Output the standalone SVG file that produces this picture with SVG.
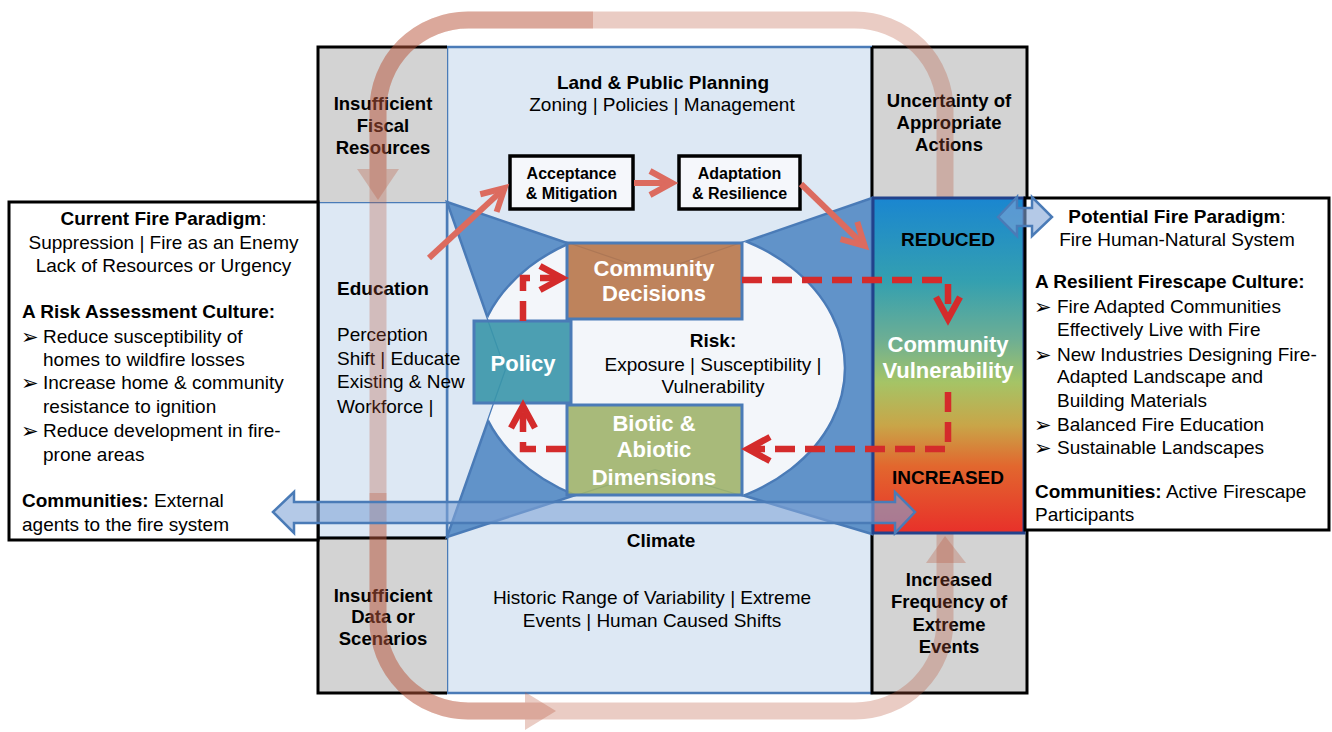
<svg xmlns="http://www.w3.org/2000/svg" width="1332" height="732" viewBox="0 0 1332 732">
<defs>
<style>
text{font-family:"Liberation Sans",Arial,sans-serif;font-size:19px;fill:#000}
.b{font-weight:bold}
.m{text-anchor:middle}
.g{font-size:18.5px;font-weight:bold;text-anchor:middle}
.w{font-size:22px;font-weight:bold;fill:#fff;text-anchor:middle}
.s{font-size:16px;font-weight:bold;text-anchor:middle}
.bul{font-family:"DejaVu Sans",sans-serif;font-size:21px}
.lb{fill:#dde8f4;stroke:#4a7bb7;stroke-width:2.5}
.gr{fill:#d3d3d3}
.blk{fill:none;stroke:#000;stroke-width:3}
.box{stroke:#4a7bb7;stroke-width:3;fill-opacity:0.9}
.wb{fill:#f5f7fb;stroke:#000;stroke-width:3.5}
.rd{fill:none;stroke:#d42b2b;stroke-width:6.5;stroke-dasharray:20 10}
.rh{fill:none;stroke:#d42b2b;stroke-width:6.5}
.sl{fill:none;stroke:#dc6b5f;stroke-width:6;marker-end:url(#ah)}
.loop{fill:none;stroke:#b9573c;stroke-opacity:0.3;stroke-width:17}
.loophead{fill:#b9573c;fill-opacity:0.3}
.dbl{fill:#82a5d7;fill-opacity:0.6;stroke:#4a7bb7;stroke-width:2.5}
</style>
<linearGradient id="vg" x1="0" y1="0" x2="0" y2="1">
<stop offset="0" stop-color="#1a86d0"/>
<stop offset="0.25" stop-color="#34a0b0"/>
<stop offset="0.42" stop-color="#6cae94"/>
<stop offset="0.55" stop-color="#a5c466"/>
<stop offset="0.68" stop-color="#c9a548"/>
<stop offset="0.8" stop-color="#e2672e"/>
<stop offset="1" stop-color="#e8302a"/>
</linearGradient>
<clipPath id="pc"><polygon points="447,202 655,273 872,198 872,534 655,469 447,537 506,370"/></clipPath>
<marker id="ah" markerUnits="userSpaceOnUse" markerWidth="40" markerHeight="30" viewBox="0 0 40 30" refX="26" refY="15" orient="auto" overflow="visible">
<path d="M4,3 L26,15 L4,27" fill="none" stroke="#dc6b5f" stroke-width="6"/>
</marker>
</defs>
<rect width="1332" height="732" fill="#fff"/>

<g id="frame">
<rect class="lb" x="447" y="47" width="425" height="646"/>
<rect class="lb" x="318" y="202" width="129" height="336"/>
</g>

<g id="gray-tl"><rect class="gr" x="318" y="47" width="129" height="155"/>
<text class="g" x="383" y="110">Insufficient</text><text class="g" x="383" y="132">Fiscal</text><text class="g" x="383" y="154">Resources</text></g>
<g id="gray-bl"><rect class="gr" x="318" y="538" width="129" height="155"/>
<text class="g" x="383" y="602">Insufficient</text><text class="g" x="383" y="623">Data or</text><text class="g" x="383" y="645">Scenarios</text></g>
<g id="gray-tr"><rect class="gr" x="872" y="47" width="155" height="151"/>
<text class="g" x="949" y="107">Uncertainty of</text><text class="g" x="949" y="129">Appropriate</text><text class="g" x="949" y="151">Actions</text></g>
<g id="gray-br"><rect class="gr" x="872" y="533" width="155" height="160"/>
<text class="g" x="949" y="586">Increased</text><text class="g" x="949" y="608">Frequency of</text><text class="g" x="949" y="631">Extreme</text><text class="g" x="949" y="653">Events</text></g>

<path class="blk" d="M447,47 H318 V693 H447 M318,538 H447 M872,47 H1027 V198 M872,47 V198 M872,533 V693 H1027 V530"/>

<g id="left-panel">
<rect x="9" y="202" width="309" height="338" fill="#fff" stroke="#000" stroke-width="3"/>
<text class="m" x="163.5" y="225"><tspan class="b">Current Fire Paradigm</tspan>:</text>
<text class="m" x="163.5" y="249">Suppression | Fire as an Enemy</text>
<text class="m" x="163.5" y="272">Lack of Resources or Urgency</text>
<text class="b" x="22" y="318">A Risk Assessment Culture:</text>
<text class="bul" x="21" y="344">➢</text><text x="43" y="343">Reduce susceptibility of</text>
<text x="43" y="366">homes to wildfire losses</text>
<text class="bul" x="21" y="390">➢</text><text x="43" y="389">Increase home &amp; community</text>
<text x="43" y="413">resistance to ignition</text>
<text class="bul" x="21" y="438">➢</text><text x="43" y="437">Reduce development in fire-</text>
<text x="43" y="461">prone areas</text>
<text x="22" y="507"><tspan class="b">Communities:</tspan> External</text>
<text x="22" y="531">agents to the fire system</text>
</g>

<g id="risk-core">
<polygon points="447,202 655,273 872,198 872,534 655,469 447,537 506,370" fill="#6193c9" stroke="#4a7bb7" stroke-width="2.5"/>
<ellipse cx="660" cy="368" rx="185" ry="143" fill="#f3f6fa" stroke="#4a7bb7" stroke-width="2.5" clip-path="url(#pc)"/>
<text class="b m" x="713" y="347">Risk:</text>
<text class="m" x="713" y="371">Exposure | Susceptibility |</text>
<text class="m" x="713" y="393">Vulnerability</text>
</g>

<g id="education">
<text class="b" x="337" y="295">Education</text>
<text x="337" y="341">Perception</text>
<text x="337" y="365">Shift | Educate</text>
<text x="337" y="388">Existing &amp; New</text>
<text x="337" y="413">Workforce |</text>
</g>

<g id="land-planning">
<text class="b m" x="663" y="89">Land &amp; Public Planning</text>
<text class="m" x="662" y="111">Zoning | Policies | Management</text>
</g>

<g id="climate">
<text class="b m" x="661" y="547">Climate</text>
<text class="m" x="652" y="604">Historic Range of Variability | Extreme</text>
<text class="m" x="652" y="627">Events | Human Caused Shifts</text>
</g>

<g id="community-decisions"><rect class="box" x="567" y="243" width="175" height="76" fill="#b8774a"/>
<text class="w" x="654" y="276">Community</text><text class="w" x="654" y="301">Decisions</text></g>
<g id="biotic"><rect class="box" x="567" y="405" width="175" height="90" fill="#a0b46c"/>
<text class="w" x="654" y="431">Biotic &amp;</text><text class="w" x="654" y="457">Abiotic</text><text class="w" x="654" y="485">Dimensions</text></g>
<g id="policy"><rect class="box" x="474" y="321" width="97" height="82" fill="#3a96aa" fill-opacity="1"/>
<text class="w" x="523" y="371">Policy</text></g>

<g id="acceptance"><rect class="wb" x="510" y="156" width="123" height="53"/>
<text class="s" x="571.5" y="179">Acceptance</text><text class="s" x="571.5" y="199">&amp; Mitigation</text></g>
<g id="adaptation"><rect class="wb" x="679" y="156" width="121" height="53"/>
<text class="s" x="739.5" y="179">Adaptation</text><text class="s" x="739.5" y="199">&amp; Resilience</text></g>

<g id="loop">
<path class="loop" d="M468,20 H855 A90,90 0 0 1 945,110 V621 A90,90 0 0 1 855,711 H468 A90,90 0 0 1 378,621 V110 A90,90 0 0 1 468,20 Z"/>
<path class="loop" d="M593,20 H468 A90,90 0 0 0 378,110 V169"/>
<polygon class="loophead" points="357,169 399,169 378,200"/>
<path class="loop" d="M378,493 V621 A90,90 0 0 0 468,711 H525"/>
<polygon class="loophead" points="525,692 525,730 556,711"/>
<polygon class="loophead" points="926,563 966,563 945,536"/>
</g>

<g id="vulnerability">
<rect x="873" y="198" width="151" height="335" fill="url(#vg)" stroke="#22428c" stroke-width="3"/>
<text class="b m" x="948" y="246">REDUCED</text>
<text class="w" x="948" y="352">Community</text>
<text class="w" x="948" y="378">Vulnerability</text>
<text class="b m" x="948" y="484">INCREASED</text>
</g>

<g id="right-panel">
<rect x="1025" y="198" width="304" height="332" fill="#fff" stroke="#000" stroke-width="3"/>
<text class="m" x="1177" y="223"><tspan class="b">Potential Fire Paradigm</tspan>:</text>
<text class="m" x="1177" y="246">Fire Human-Natural System</text>
<text class="b" x="1035" y="288">A Resilient Firescape Culture:</text>
<text class="bul" x="1034" y="314">➢</text><text x="1057" y="313">Fire Adapted Communities</text>
<text x="1057" y="336">Effectively Live with Fire</text>
<text class="bul" x="1034" y="362">➢</text><text x="1057" y="361">New Industries Designing Fire-</text>
<text x="1057" y="383">Adapted Landscape and</text>
<text x="1057" y="407">Building Materials</text>
<text class="bul" x="1034" y="432">➢</text><text x="1057" y="431">Balanced Fire Education</text>
<text class="bul" x="1034" y="455">➢</text><text x="1057" y="454">Sustainable Landscapes</text>
<text x="1035" y="498"><tspan class="b">Communities:</tspan> Active Firescape</text>
<text x="1035" y="521">Participants</text>
</g>

<g id="connectors">
<path class="rd" d="M742,280 H948 V312"/>
<path class="rh" d="M936,297 L948,319 L960,297"/>
<path class="rd" d="M948,392 V449 H752"/>
<path class="rh" d="M770,437 L748,449 L770,461"/>
<path class="rd" d="M523,321 V278 H556"/>
<path class="rh" d="M540,266 L562,278 L540,290"/>
<path class="rd" d="M566,449 H523 V413"/>
<path class="rh" d="M511,428 L523,406 L535,428"/>
<line class="sl" x1="429" y1="258" x2="504.6" y2="188.1"/>
<line class="sl" x1="634" y1="183" x2="672" y2="183"/>
<line class="sl" x1="801" y1="184" x2="864.7" y2="245.8"/>
<polygon class="dbl" points="273,512 294,492 294,502 895,502 895,492 915,512 895,533 895,523 294,523 294,533"/>
<polygon class="dbl" fill-opacity="0.85" points="998,217 1017,197 1017,208 1032,208 1032,197 1052,217 1032,236 1032,226 1017,226 1017,236"/>
</g>
</svg>
